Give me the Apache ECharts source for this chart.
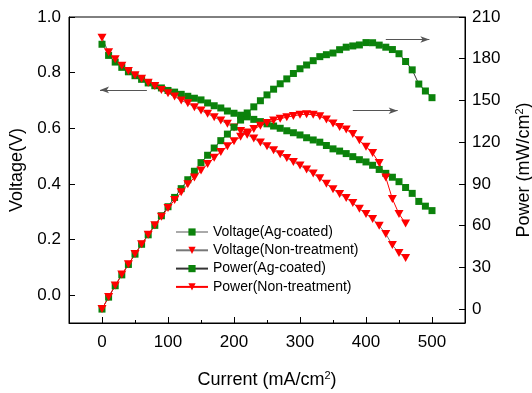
<!DOCTYPE html>
<html>
<head>
<meta charset="utf-8">
<script src="https://cdn.jsdelivr.net/npm/echarts@6/dist/echarts.min.js"></script>
<style>
  html, body { margin: 0; padding: 0; background: #fff; }
  #chart { width: 532px; height: 393px; }
</style>
</head>
<body>
<div id="chart"></div>
<script>
const agCurrent = [0, 10, 20, 30, 40, 50, 60, 70, 80, 90, 100, 110, 120, 130, 140, 150, 160, 170, 180, 190,
  200, 210, 220, 230, 240, 250, 260, 270, 280, 290, 300, 310, 320, 330, 340, 350, 360, 370, 380, 390,
  400, 410, 420, 430, 440, 450, 460, 470, 480, 490, 500];
const agVoltage = [0.902, 0.862, 0.838, 0.819, 0.803, 0.789, 0.776, 0.763, 0.753, 0.745, 0.736, 0.730, 0.722,
  0.715, 0.708, 0.702, 0.691, 0.681, 0.673, 0.662, 0.654, 0.647, 0.641, 0.632, 0.624, 0.616, 0.608, 0.600,
  0.591, 0.584, 0.576, 0.566, 0.558, 0.550, 0.538, 0.526, 0.518, 0.509, 0.498, 0.487, 0.479, 0.467, 0.452,
  0.438, 0.424, 0.408, 0.387, 0.366, 0.337, 0.320, 0.304];
const agPower = [0, 8.6, 16.8, 24.6, 32.1, 39.5, 46.6, 53.4, 60.2, 67.1, 73.6, 80.3, 86.6, 93.0, 99.1, 105.3,
  110.6, 115.8, 121.1, 125.8, 130.8, 135.9, 141.0, 145.4, 149.8, 154.0, 158.1, 162.0, 165.5, 169.4, 172.8,
  175.5, 178.6, 181.5, 182.9, 184.1, 186.5, 188.3, 189.2, 189.9, 191.6, 191.5, 189.8, 188.3, 186.6, 183.6,
  178.0, 172.0, 161.8, 156.8, 152.0];

const rawCurrent = [0, 10, 20, 30, 40, 50, 60, 70, 80, 90, 100, 110, 120, 130, 140, 150, 160, 170, 180, 190,
  200, 210, 220, 230, 240, 250, 260, 270, 280, 290, 300, 310, 320, 330, 340, 350, 360, 370, 380, 390,
  400, 410, 420, 430, 440, 450, 460];
const rawVoltage = [0.925, 0.873, 0.848, 0.825, 0.806, 0.791, 0.778, 0.764, 0.752, 0.738, 0.726, 0.714, 0.700,
  0.690, 0.676, 0.664, 0.652, 0.640, 0.628, 0.616, 0.603, 0.590, 0.577, 0.563, 0.549, 0.535, 0.521, 0.507,
  0.493, 0.479, 0.466, 0.452, 0.437, 0.420, 0.401, 0.381, 0.364, 0.349, 0.331, 0.311, 0.292, 0.274, 0.250,
  0.220, 0.180, 0.152, 0.134];
const rawPower = [0, 8.7, 17.0, 24.8, 32.2, 39.6, 46.7, 53.5, 60.2, 66.4, 72.6, 78.5, 84.0, 89.7, 94.6, 99.6,
  104.3, 108.8, 113.0, 117.0, 120.6, 123.9, 126.9, 129.5, 131.8, 133.8, 135.5, 136.9, 138.0, 138.9, 139.8,
  140.1, 139.8, 138.6, 136.3, 133.4, 131.0, 129.1, 125.8, 121.3, 116.8, 112.3, 105.0, 94.6, 79.2, 68.4, 61.6];

const xTicks = [0, 100, 200, 300, 400, 500];
const xMinorTicks = [50, 150, 250, 350, 450];
const voltageTicks = [0, 0.2, 0.4, 0.6, 0.8, 1.0];
const powerTicks = [0, 30, 60, 90, 120, 150, 180, 210];

const seriesNames = ['Voltage(Ag-coated)', 'Voltage(Non-treatment)', 'Power(Ag-coated)', 'Power(Non-treatment)'];

const FONT = 'Arial, "Liberation Sans", sans-serif';
const GREEN = '#0b820b';
const RED = '#ff0000';
const DOWN_TRIANGLE = 'path://M0,0 L10,0 L5,8.5 Z';

function pairs(xs, ys) {
  return xs.map((x, i) => [x, ys[i]]);
}

const titleRich = {
  sup: { fontSize: 11, fontFamily: FONT, color: '#000', verticalAlign: 'top', padding: [0, 0, 9, 0] },
};

const arrowLine = {
  silent: true,
  animation: false,
  symbol: ['none', 'arrow'],
  symbolSize: [5, 9],
  label: { show: false },
  lineStyle: { color: '#555', width: 1, type: 'solid' },
};

const chart = echarts.init(document.getElementById('chart'), null, { renderer: 'canvas' });

chart.setOption({
  animation: false,
  textStyle: { fontFamily: FONT },
  grid: {
    left: 69, right: 67, top: 17, bottom: 70,
    outerBoundsMode: 'none',
    containLabel: false,
    show: true, borderColor: '#000', borderWidth: 1,
  },
  legend: {
    data: seriesNames,
    orient: 'vertical',
    left: 175,
    top: 225,
    padding: 0,
    itemWidth: 32,
    itemHeight: 9,
    itemGap: 4.3,
    textStyle: { fontSize: 14, color: '#000', fontFamily: FONT, lineHeight: 14 },
  },
  xAxis: [
    {
      type: 'value',
      min: -50, max: 550,
      name: 'Current (mA/cm{sup|2})',
      nameLocation: 'middle',
      nameGap: 47,
      nameTextStyle: { fontSize: 18, color: '#000', fontFamily: FONT, rich: titleRich },
      axisLine: { show: true, onZero: false, lineStyle: { color: '#000', width: 1 } },
      axisTick: { show: true, inside: true, length: 6, customValues: xTicks, lineStyle: { color: '#000' } },
      axisLabel: { customValues: xTicks, fontSize: 17, color: '#000', margin: 11, fontFamily: FONT },
      splitLine: { show: false },
    },
    {
      type: 'value',
      min: -50, max: 550,
      position: 'bottom',
      axisLine: { show: false, onZero: false },
      axisTick: { show: true, inside: true, length: 3, customValues: xMinorTicks, lineStyle: { color: '#000' } },
      axisLabel: { show: false },
      splitLine: { show: false },
    },
  ],
  yAxis: [
    {
      type: 'value',
      min: -0.1, max: 1.0,
      position: 'left',
      name: 'Voltage(V)',
      nameLocation: 'middle',
      nameRotate: 90,
      nameGap: 42,
      nameTextStyle: { fontSize: 18, color: '#000', fontFamily: FONT },
      axisLine: { show: true, onZero: false, lineStyle: { color: '#000', width: 1 } },
      axisTick: { show: true, inside: true, length: 6, customValues: voltageTicks, lineStyle: { color: '#000' } },
      axisLabel: {
        customValues: voltageTicks, fontSize: 17, color: '#000', margin: 8, fontFamily: FONT,
        formatter: (v) => v.toFixed(1),
      },
      splitLine: { show: false },
    },
    {
      type: 'value',
      min: -10, max: 210,
      position: 'right',
      name: 'Power (mW/cm{sup|2})',
      nameLocation: 'middle',
      nameRotate: 90,
      nameGap: 49,
      nameTextStyle: { fontSize: 18, color: '#000', fontFamily: FONT, rich: titleRich },
      axisLine: { show: true, onZero: false, lineStyle: { color: '#000', width: 1 } },
      axisTick: { show: true, inside: true, length: 6, customValues: powerTicks, lineStyle: { color: '#000' } },
      axisLabel: { customValues: powerTicks, fontSize: 17, color: '#000', margin: 7, fontFamily: FONT },
      splitLine: { show: false },
    },
  ],
  series: [
    {
      name: seriesNames[0],
      type: 'line',
      yAxisIndex: 0,
      data: pairs(agCurrent, agVoltage),
      symbol: 'rect',
      symbolSize: 7,
      itemStyle: { color: GREEN },
      lineStyle: { color: '#aaa', width: 1 },
      markLine: Object.assign({}, arrowLine, {
        data: [[{ coord: [68, 0.738] }, { coord: [-3, 0.738] }]],
      }),
    },
    {
      name: seriesNames[1],
      type: 'line',
      yAxisIndex: 0,
      data: pairs(rawCurrent, rawVoltage),
      symbol: DOWN_TRIANGLE,
      symbolSize: [9, 8],
      itemStyle: { color: RED },
      lineStyle: { color: '#777', width: 1 },
    },
    {
      name: seriesNames[2],
      type: 'line',
      yAxisIndex: 1,
      data: pairs(agCurrent, agPower),
      symbol: 'rect',
      symbolSize: 7,
      itemStyle: { color: GREEN },
      lineStyle: { color: '#333', width: 1 },
      markLine: Object.assign({}, arrowLine, {
        data: [
          [{ coord: [430, 193.8] }, { coord: [496, 193.8] }],
          [{ coord: [380, 142.6] }, { coord: [448, 142.6] }],
        ],
      }),
    },
    {
      name: seriesNames[3],
      type: 'line',
      yAxisIndex: 1,
      data: pairs(rawCurrent, rawPower),
      symbol: DOWN_TRIANGLE,
      symbolSize: [9, 8],
      itemStyle: { color: RED },
      lineStyle: { color: RED, width: 1 },
    },
  ],
});
</script>
</body>
</html>
